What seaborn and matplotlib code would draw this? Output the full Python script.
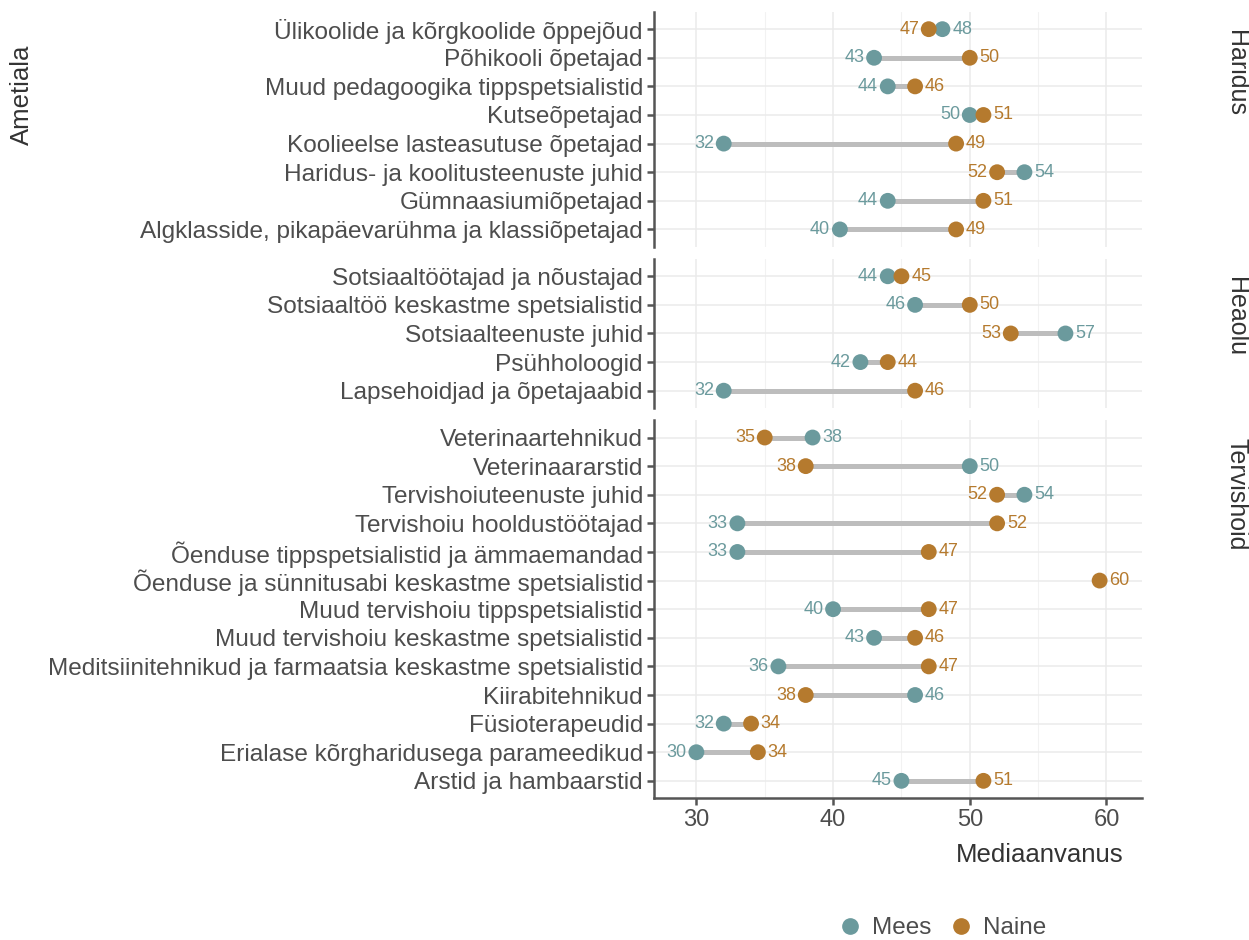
import numpy as np
import pandas as pd
import matplotlib
matplotlib.use("Agg")
import matplotlib.pyplot as plt
from matplotlib.lines import Line2D
from matplotlib.ticker import MultipleLocator
import seaborn as sns

# data (median age by occupation and sex)
groups = ["Haridus", "Heaolu", "Tervishoid"]

haridus_amet = ["Ülikoolide ja kõrgkoolide õppejõud", "Põhikooli õpetajad",
                "Muud pedagoogika tippspetsialistid", "Kutseõpetajad",
                "Koolieelse lasteasutuse õpetajad", "Haridus- ja koolitusteenuste juhid",
                "Gümnaasiumiõpetajad", "Algklasside, pikapäevarühma ja klassiõpetajad"]
haridus_mees = [48, 43, 44, 50, 32, 54, 44, 40.5]
haridus_naine = [47, 50, 46, 51, 49, 52, 51, 49]

heaolu_amet = ["Sotsiaaltöötajad ja nõustajad", "Sotsiaaltöö keskastme spetsialistid",
               "Sotsiaalteenuste juhid", "Psühholoogid", "Lapsehoidjad ja õpetajaabid"]
heaolu_mees = [44, 46, 57, 42, 32]
heaolu_naine = [45, 50, 53, 44, 46]

tervis_amet = ["Veterinaartehnikud", "Veterinaararstid", "Tervishoiuteenuste juhid",
               "Tervishoiu hooldustöötajad", "Õenduse tippspetsialistid ja ämmaemandad",
               "Õenduse ja sünnitusabi keskastme spetsialistid",
               "Muud tervishoiu tippspetsialistid", "Muud tervishoiu keskastme spetsialistid",
               "Meditsiinitehnikud ja farmaatsia keskastme spetsialistid", "Kiirabitehnikud",
               "Füsioterapeudid", "Erialase kõrgharidusega parameedikud", "Arstid ja hambaarstid"]
tervis_mees = [38.5, 50, 54, 33, 33, np.nan, 40, 43, 36, 46, 32, 30, 45]
tervis_naine = [35, 38, 52, 52, 47, 59.5, 47, 46, 47, 38, 34, 34.5, 51]

sexes = ["Mees", "Naine"]
colors = {"Mees": "#6b9a9d", "Naine": "#b57a2e"}

frames = []
for g, amet, m, n in [("Haridus", haridus_amet, haridus_mees, haridus_naine),
                      ("Heaolu", heaolu_amet, heaolu_mees, heaolu_naine),
                      ("Tervishoid", tervis_amet, tervis_mees, tervis_naine)]:
    frames.append(pd.DataFrame({"grupp": g, "ametiala": amet, "pos": range(len(amet)),
                                "Mees": m, "Naine": n}))
wide = pd.concat(frames, ignore_index=True)
long = wide.melt(id_vars=["grupp", "ametiala", "pos"], value_vars=sexes,
                 var_name="sugu", value_name="vanus").dropna()

sns.set_theme(style="whitegrid")
plt.rcParams["font.family"] = ["Liberation Sans", "DejaVu Sans"]
txt = "#4d4d4d"

W, H = 1249, 940
fig = plt.figure(figsize=(W / 100, H / 100), dpi=100)

left_px, right_px, top_px, bottom_px, gap_px = 654, 1142, 12, 798, 12.5
counts = [len(haridus_amet), len(heaolu_amet), len(tervis_amet)]
units = [c + 0.2 for c in counts]
pitch = (bottom_px - top_px - gap_px * 2) / sum(units)

y = top_px
axes = []
for i, g in enumerate(groups):
    h = units[i] * pitch
    ax = fig.add_axes([left_px / W, 1 - (y + h) / H, (right_px - left_px) / W, h / H])
    sub = wide[wide.grupp == g]
    long_sub = long[long.grupp == g]

    # gray connecting segments
    ax.hlines(sub["pos"], sub["Mees"], sub["Naine"], color="#bdbdbd", lw=3.6, zorder=2)
    sns.scatterplot(data=long_sub, x="vanus", y="pos", hue="sugu", palette=colors,
                    hue_order=sexes, s=130, edgecolor="none", legend=False, ax=ax, zorder=3)

    # value labels on the outside of each pair
    for _, r in sub.iterrows():
        vals = {s: r[s] for s in sexes if not np.isnan(r[s])}
        lo = min(vals, key=vals.get) if len(vals) > 1 else None
        for s, v in vals.items():
            if s == lo:
                ax.annotate(f"{round(v)}", (v, r["pos"]), xytext=(-7, 0), textcoords="offset points",
                            ha="right", va="center", color=colors[s], fontsize=13)
            else:
                ax.annotate(f"{round(v)}", (v, r["pos"]), xytext=(7, 0), textcoords="offset points",
                            ha="left", va="center", color=colors[s], fontsize=13)

    ax.set_xlim(26.9, 62.6)
    ax.set_ylim(counts[i] - 1 + 0.6, -0.6)
    ax.set_yticks(range(counts[i]))
    ax.set_yticklabels(sub["ametiala"], fontsize=17.6, color=txt)
    ax.xaxis.set_major_locator(MultipleLocator(10))
    ax.xaxis.set_minor_locator(MultipleLocator(5))
    ax.grid(which="major", color="#ebebeb", lw=1.1)
    ax.grid(which="minor", axis="x", color="#f2f2f2", lw=0.8)
    ax.set_xlabel("")
    ax.set_ylabel("")
    for sp in ["top", "right", "bottom"]:
        ax.spines[sp].set_visible(False)
    ax.spines["left"].set_color("#555555")
    ax.spines["left"].set_linewidth(1.8)
    ax.tick_params(axis="y", left=True, length=5, width=1.8, color="#555555", pad=3)
    if i < 2:
        ax.tick_params(axis="x", bottom=False, labelbottom=False)
    else:
        ax.spines["bottom"].set_visible(True)
        ax.spines["bottom"].set_color("#555555")
        ax.spines["bottom"].set_linewidth(1.8)
        ax.tick_params(axis="x", bottom=True, length=5, width=1.8, color="#555555",
                       labelsize=17, labelcolor=txt, pad=3)
    # facet strip label on the right
    fig.text(1236 / W, 1 - (y + 18) / H, g, rotation=270, ha="center", va="top",
             fontsize=18, color="#333333")
    axes.append(ax)
    y += h + gap_px

fig.text(1123 / W, 1 - 855 / H, "Mediaanvanus", ha="right", va="center", fontsize=18.5, color="#333333")
fig.text(22 / W, 1 - 45 / H, "Ametiala", rotation=90, ha="center", va="top", fontsize=18.5, color="#333333")

handles = [Line2D([], [], marker="o", ls="", color=colors[s], markersize=11) for s in sexes]
fig.legend(handles, sexes, loc="center", bbox_to_anchor=(942 / W, 1 - 928 / H), ncol=2,
           frameon=False, fontsize=17.5, labelcolor=txt, handlelength=1.0,
           handletextpad=0.4, columnspacing=0.75)

fig.savefig("out.png", dpi=100)
